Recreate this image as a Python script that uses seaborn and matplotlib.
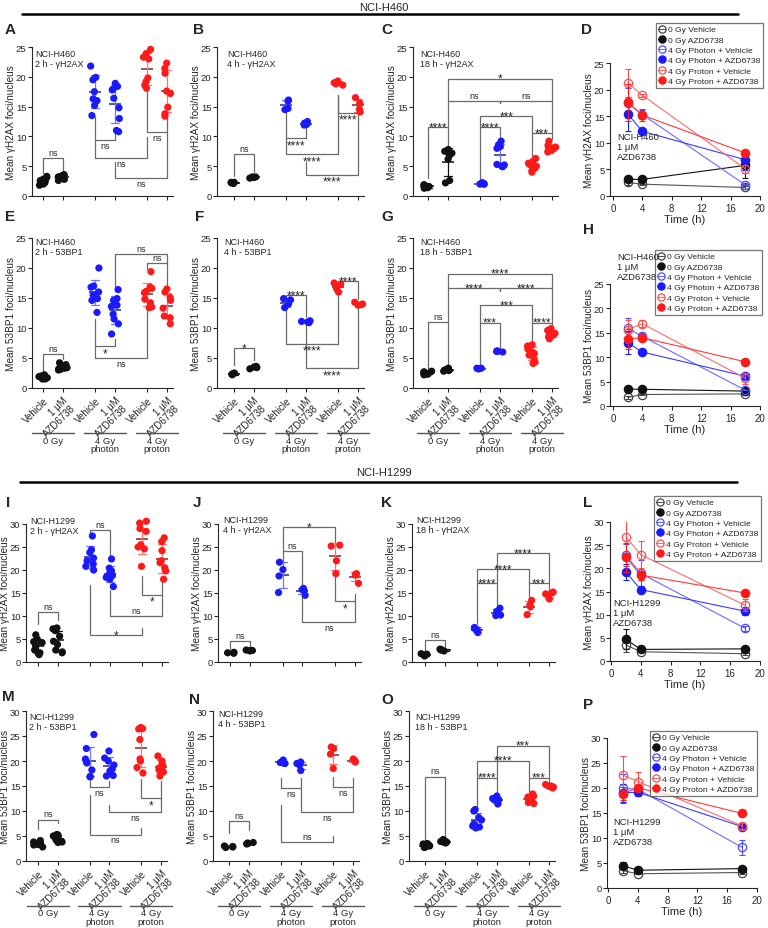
import warnings
import numpy as np
import pandas as pd
import seaborn as sns
import matplotlib
matplotlib.use("Agg")
import matplotlib.pyplot as plt
import matplotlib.transforms as mtransforms
from matplotlib.lines import Line2D

warnings.filterwarnings("ignore")
np.random.seed(3)

sns.set_style("ticks")
plt.rcParams["font.family"] = ["Liberation Sans", "DejaVu Sans"]
plt.rcParams["xtick.labelsize"] = 7
plt.rcParams["ytick.labelsize"] = 6.8
plt.rcParams["axes.linewidth"] = 0.8

W, H = 768, 929

GROUPS = ["0 Gy Vehicle", "0 Gy AZD6738", "4 Gy Photon + Vehicle",
          "4 Gy Photon + AZD6738", "4 Gy Proton + Vehicle", "4 Gy Proton + AZD6738"]
POS = [0, 1, 2.65, 3.65, 5.3, 6.3]
TICK_LABELS = ["Vehicle", "1 μM\nAZD6738"] * 3
DOSE_LABELS = ["0 Gy", "4 Gy\nphoton", "4 Gy\nproton"]
YLABELS = {"gH2AX": "Mean γH2AX foci/nucleus", "53BP1": "Mean 53BP1 foci/nucleus"}
MARK_TEXT = {"gH2AX": "γH2AX", "53BP1": "53BP1"}

# per replicate foci counts, one list per group (order of GROUPS)
h460_gh2ax_2h = [[2.0, 2.3, 2.5, 2.8, 3.1, 3.3, 1.8, 2.6],
                 [2.6, 3.0, 3.2, 3.4, 3.6, 3.3, 2.8, 3.1],
                 [21.8, 19.9, 19.5, 17.5, 16.3, 16.0, 15.2, 13.5],
                 [18.9, 18.4, 17.9, 17.8, 16.4, 14.8, 13.0, 11.0, 10.8],
                 [24.6, 23.9, 23.3, 23.0, 19.8, 19.2, 18.6, 18.1],
                 [22.3, 21.4, 20.6, 17.6, 17.2, 14.9, 13.8, 13.4]]
h460_gh2ax_4h = [[2.1, 2.2, 2.3, 2.3],
                 [3.0, 3.1, 3.2, 3.2],
                 [16.1, 15.9, 14.7, 14.5],
                 [12.5, 12.2, 12.0, 11.9],
                 [19.3, 19.0, 18.8, 18.6],
                 [16.5, 15.6, 14.6, 14.1]]
h460_gh2ax_18h = [[1.4, 1.6, 1.7, 1.9, 1.5, 1.8, 1.3, 1.6],
                  [7.8, 7.5, 7.2, 6.8, 6.2, 2.6, 2.2],
                  [2.0, 2.1, 2.2, 2.0, 2.1, 2.2, 2.1, 2.0],
                  [9.2, 8.6, 8.3, 8.0, 5.3, 5.0, 4.9, 5.2],
                  [6.3, 5.8, 5.5, 5.2, 5.0, 4.7, 4.3, 4.0, 5.3],
                  [9.2, 8.5, 8.2, 8.0, 7.8, 7.6, 7.4, 8.1]]
h460_53bp1_2h = [[1.5, 1.6, 1.8, 2.0, 2.2, 1.7, 1.5, 1.9],
                 [3.0, 3.2, 3.4, 3.6, 3.9, 4.2, 3.1, 3.3],
                 [20.0, 17.0, 16.8, 16.0, 15.5, 14.9, 14.6, 12.6],
                 [16.4, 14.9, 14.6, 13.8, 13.6, 12.3, 11.5, 10.7, 9.0],
                 [19.4, 16.8, 16.6, 16.1, 15.9, 14.8, 14.2, 13.5, 13.4],
                 [16.5, 16.0, 15.1, 14.6, 13.3, 12.0, 11.7, 10.7]]
h460_53bp1_4h = [[2.2, 2.3, 2.4, 2.5],
                 [3.2, 3.4, 3.5, 3.6],
                 [14.9, 14.7, 14.0, 13.4],
                 [11.2, 11.0, 10.9, 11.1],
                 [17.5, 17.3, 16.6, 16.0],
                 [14.3, 14.0, 13.8, 13.9]]
h460_53bp1_18h = [[2.2, 2.4, 2.6, 2.8, 2.3, 2.5, 2.7, 2.4],
                  [2.8, 3.0, 3.1, 3.2, 3.3, 2.9],
                  [3.2, 3.3, 3.3, 3.2],
                  [6.0, 6.1, 6.2, 6.1],
                  [7.2, 7.0, 6.5, 6.0, 5.5, 4.9, 4.3, 4.1, 5.8],
                  [9.9, 9.6, 9.3, 9.0, 8.8, 8.5, 8.2, 9.1]]
h1299_gh2ax_2h = [[5.9, 5.0, 4.2, 3.5, 2.6, 2.0, 1.8, 1.6, 4.4],
                  [7.4, 7.2, 6.8, 5.6, 4.5, 2.6, 2.2, 2.0, 3.8],
                  [27.4, 24.4, 23.8, 22.6, 22.0, 21.3, 20.8, 20.0],
                  [22.4, 20.4, 19.8, 19.2, 18.8, 18.4, 18.0, 16.4],
                  [30.6, 30.2, 29.0, 28.4, 25.5, 25.0, 24.6, 20.8],
                  [27.0, 26.2, 24.2, 22.0, 21.6, 19.8, 18.0, 20.5]]
h1299_gh2ax_4h = [[1.9, 2.0, 2.1, 2.0],
                  [2.4, 2.5, 2.6, 2.5],
                  [21.7, 20.1, 18.7, 15.1],
                  [16.0, 15.7, 15.5, 14.5],
                  [25.4, 25.2, 22.0, 19.2],
                  [19.2, 19.0, 18.9, 17.1]]
h1299_gh2ax_18h = [[1.3, 1.5, 1.7, 1.8],
                   [2.4, 2.6, 2.7, 2.8],
                   [7.5, 7.3, 7.0, 6.4],
                   [11.7, 11.0, 10.2, 10.1],
                   [13.4, 12.4, 12.0, 10.3],
                   [15.2, 15.0, 14.8, 13.7]]
h1299_53bp1_2h = [[2.8, 3.2, 3.4, 3.6, 3.8, 4.1, 3.3, 3.5],
                  [3.7, 3.9, 4.2, 4.6, 5.0, 5.2, 5.3, 3.8],
                  [25.3, 22.5, 20.4, 20.0, 19.6, 18.2, 16.8, 16.9],
                  [22.0, 20.6, 20.0, 19.2, 18.4, 18.0, 17.0, 17.1],
                  [26.7, 26.5, 26.4, 24.3, 20.4, 20.0, 18.7, 17.6],
                  [21.0, 20.0, 19.4, 19.0, 18.6, 18.2, 17.8, 17.0]]
h1299_53bp1_4h = [[2.7, 2.8, 3.0, 2.9],
                  [3.4, 3.6, 3.7, 3.5],
                  [20.2, 19.7, 19.5, 19.6],
                  [19.8, 19.5, 19.2, 18.1],
                  [22.8, 22.5, 21.4, 18.5],
                  [20.4, 20.1, 19.9, 19.8]]
h1299_53bp1_18h = [[2.7, 2.9, 3.1, 3.3, 3.5, 3.0, 3.2, 2.8, 3.4],
                   [3.6, 3.8, 4.0, 4.3, 3.7, 3.9],
                   [10.3, 10.0, 8.7, 8.2, 7.4, 7.0, 6.8, 6.6],
                   [13.0, 12.5, 12.3, 12.2, 11.4],
                   [13.4, 13.0, 12.8, 12.5, 12.3, 12.0, 11.7, 11.5, 12.6],
                   [15.3, 15.0, 14.8, 14.6, 14.9]]

# significance brackets: (group i, group j, line y, leg end i, leg end j, label, label side)
BR_A = [(0, 1, 6.3, 3.9, 4.3, "ns", "a"), (2, 3, 9.4, 13.3, 10.7, "ns", "b"),
        (2, 4, 6.3, 9.4, 9.9, "ns", "b"), (4, 5, 10.8, 17.6, 13.3, "ns", "b"),
        (3, 5, 3.1, 5.7, 10.8, "ns", "b")]
BR_B = [(0, 1, 7.1, 3.4, 4.0, "ns", "a"), (2, 3, 9.7, 14.2, 11.6, "****", "b"),
        (2, 4, 7.0, 9.7, 17.0, "****", "b"), (4, 5, 14.0, 17.0, 14.0, "****", "b"),
        (3, 5, 3.6, 5.7, 14.0, "****", "b")]
BR_C = [(0, 1, 11.6, 3.0, 8.3, "****", "a"), (2, 3, 11.6, 2.6, 9.6, "****", "a"),
        (4, 5, 10.6, 6.7, 9.6, "***", "a"), (2, 4, 13.4, 11.6, 10.6, "***", "a"),
        (1, 3, 16.0, 11.6, 15.6, "ns", "a"), (3, 5, 16.0, 15.6, 10.6, "ns", "a"),
        (1, 5, 19.7, 16.0, 16.0, "*", "a")]
BR_E = [(0, 1, 5.7, 2.9, 4.8, "ns", "a"), (2, 3, 7.0, 11.5, 8.2, "*", "b"),
        (2, 4, 5.0, 7.0, 13.7, "ns", "b"), (4, 5, 20.8, 19.8, 17.0, "ns", "a"),
        (3, 5, 22.3, 16.8, 20.8, "ns", "a")]
BR_F = [(0, 1, 6.7, 3.9, 4.6, "*", "a"), (2, 3, 15.5, 15.2, 11.8, "****", "a"),
        (4, 5, 17.8, 17.6, 14.8, "****", "a"), (2, 4, 7.4, 13.2, 15.7, "****", "b"),
        (3, 5, 3.3, 10.6, 13.5, "****", "b")]
BR_G = [(0, 1, 11.0, 3.1, 3.6, "ns", "a"), (2, 3, 10.9, 3.6, 6.6, "***", "a"),
        (4, 5, 10.9, 7.7, 10.2, "****", "a"), (2, 4, 13.8, 10.9, 10.9, "***", "a"),
        (1, 3, 16.6, 11.0, 16.1, "****", "a"), (3, 5, 16.6, 16.1, 10.9, "****", "a"),
        (1, 5, 19.05, 16.6, 16.6, "****", "a")]
BR_I = [(0, 1, 10.8, 8.3, 9.2, "ns", "a"), (2, 3, 28.8, 27.8, 23.1, "ns", "a"),
        (4, 5, 14.6, 18.8, 17.3, "*", "b"), (3, 5, 9.9, 15.7, 14.6, "ns", "a"),
        (2, 4, 5.9, 16.7, 7.5, "*", "a")]
BR_J = [(0, 1, 4.6, 2.9, 3.3, "ns", "a"), (2, 3, 24.1, 22.0, 16.8, "ns", "a"),
        (2, 4, 29.4, 24.1, 26.0, "*", "a"), (4, 5, 13.2, 18.4, 14.8, "*", "b"),
        (3, 5, 8.7, 14.1, 13.2, "ns", "b")]
BR_K = [(0, 1, 4.7, 2.3, 3.2, "ns", "a"), (2, 3, 17.2, 8.3, 12.4, "****", "a"),
        (4, 5, 17.2, 13.9, 15.7, "***", "a"), (2, 4, 20.2, 17.2, 17.2, "****", "a"),
        (3, 5, 23.7, 17.2, 17.2, "****", "a")]
BR_M = [(0, 1, 8.3, 6.5, 7.7, "ns", "a"), (2, 3, 14.8, 16.0, 16.0, "ns", "b"),
        (4, 5, 12.6, 16.5, 16.0, "*", "b"), (3, 5, 9.8, 11.3, 12.6, "ns", "b"),
        (2, 4, 5.3, 13.3, 6.7, "ns", "b")]
BR_N = [(0, 1, 8.0, 5.7, 6.3, "ns", "a"), (2, 3, 14.6, 16.7, 16.7, "ns", "b"),
        (4, 5, 14.9, 16.9, 16.7, "ns", "b"), (3, 5, 9.8, 14.6, 14.9, "ns", "b"),
        (2, 4, 3.8, 11.3, 5.0, "ns", "a")]
BR_O = [(0, 1, 16.9, 4.0, 4.7, "ns", "a"), (2, 3, 16.7, 11.0, 13.1, "****", "a"),
        (4, 5, 16.7, 13.8, 15.5, "***", "a"), (2, 4, 20.1, 16.7, 16.7, "****", "a"),
        (3, 5, 23.1, 16.7, 16.7, "***", "a")]

POINT_COLORS = ["#111111", "#111111", "#1a1aff", "#1a1aff", "#ff1a1a", "#ff1a1a"]
ERR_COLORS = ["#111111", "#111111", "#7272ff", "#7272ff", "#ff7272", "#ff7272"]
MEAN_COLORS = ["#111111", "#111111", "#2a2a7a", "#2a2a7a", "#7a2a2a", "#7a2a2a"]
LINE_COLORS = ["#555555", "#111111", "#6b6bff", "#3a3aff", "#ff6b6b", "#ff3a3a"]
EDGE_COLORS = ["#444444", "#111111", "#4d4dff", "#1a1aff", "#ff4d4d", "#ff1a1a"]
FACE_COLORS = ["none", "#111111", "none", "#1a1aff", "none", "#ff1a1a"]

SOURCES = {("NCI-H460", "gH2AX", 2): h460_gh2ax_2h, ("NCI-H460", "gH2AX", 4): h460_gh2ax_4h,
           ("NCI-H460", "gH2AX", 18): h460_gh2ax_18h, ("NCI-H460", "53BP1", 2): h460_53bp1_2h,
           ("NCI-H460", "53BP1", 4): h460_53bp1_4h, ("NCI-H460", "53BP1", 18): h460_53bp1_18h,
           ("NCI-H1299", "gH2AX", 2): h1299_gh2ax_2h, ("NCI-H1299", "gH2AX", 4): h1299_gh2ax_4h,
           ("NCI-H1299", "gH2AX", 18): h1299_gh2ax_18h, ("NCI-H1299", "53BP1", 2): h1299_53bp1_2h,
           ("NCI-H1299", "53BP1", 4): h1299_53bp1_4h, ("NCI-H1299", "53BP1", 18): h1299_53bp1_18h}

rows = []
for (cell, mark, t), groups in SOURCES.items():
    for g, p, vals in zip(GROUPS, POS, groups):
        for v in vals:
            rows.append(dict(cell=cell, mark=mark, time=t, grp=g, pos=p, value=v))
data = pd.DataFrame(rows)

fig = plt.figure(figsize=(W / 100, H / 100), dpi=100)


def px_rect(left, top, right, bottom):
    return [left / W, 1 - bottom / H, (right - left) / W, (bottom - top) / H]


def style_axes(ax, mark, width_px):
    ax.set_ylabel(YLABELS[mark], fontsize=7.2)
    ax.yaxis.set_label_coords(-16 / width_px, 0.5)
    sns.despine(ax=ax)
    ax.tick_params(length=3, width=0.8)
    ax.tick_params(axis="y", pad=1)
    ax.tick_params(axis="x", pad=2)


def scatter_panel(spec, cell, mark, t, ymax, brackets, labelled, inset_xy):
    spine, first, last, top, bottom = spec
    unit = (last - first) / (POS[-1] - POS[0])
    right = last + 6
    ax = fig.add_axes(px_rect(spine, top, right, bottom))
    d = data[(data.cell == cell) & (data.mark == mark) & (data.time == t)]
    sns.stripplot(data=d, x="pos", y="value", hue="grp", hue_order=GROUPS,
                  palette=dict(zip(GROUPS, POINT_COLORS)), native_scale=True,
                  jitter=0.24, size=5.2, linewidth=0, legend=False, ax=ax)
    for g, ec, mc in zip(GROUPS, ERR_COLORS, MEAN_COLORS):
        sns.pointplot(data=d[d.grp == g], x="pos", y="value", native_scale=True,
                      errorbar="sd", capsize=0.4, color=ec, linestyle="none",
                      marker="_", markersize=9, markeredgewidth=1.1, markeredgecolor=mc,
                      err_kws={"linewidth": 0.9}, ax=ax)
    ax.set_xlim(POS[0] + (spine - first) / unit, POS[0] + (right - first) / unit)
    ax.set_ylim(0, ymax)
    ax.set_yticks(range(0, ymax + 1, 5))
    ax.set_xticks(POS)
    ax.set_xlabel("")
    for c in ax.collections:
        c.set_clip_on(False)
    style_axes(ax, mark, right - spine)
    hpx = bottom - top
    if labelled:
        ax.set_xticklabels(TICK_LABELS, rotation=45, ha="right", va="top",
                           rotation_mode="anchor", fontsize=7, linespacing=1.05)
        trans = mtransforms.blended_transform_factory(ax.transData, ax.transAxes)
        yl = -45 / hpx
        for k, lab in enumerate(DOSE_LABELS):
            c = (POS[2 * k] + POS[2 * k + 1]) / 2
            ax.plot([c - 1.08, c + 1.08], [yl, yl], transform=trans, clip_on=False,
                    color="#555555", lw=1)
            ax.text(c, yl - 2.5 / hpx, lab, transform=trans, ha="center", va="top",
                    fontsize=6.8, linespacing=1.0)
    else:
        ax.set_xticklabels([])

    px = ymax / hpx
    for i, j, y, e1, e2, lab, side in brackets:
        xa, xb = POS[i], POS[j]
        ax.plot([xa, xa, xb, xb], [e1, y, y, e2], color="#6a6a6a", lw=0.9, clip_on=False)
        star = lab != "ns"
        fs = 8.5 if star else 6.5
        if side == "a":
            if star:
                ax.text((xa + xb) / 2, y - 3.2 * px, lab, ha="center", va="baseline",
                        fontsize=fs, clip_on=False)
            else:
                ax.text((xa + xb) / 2, y + 1.0 * px, lab, ha="center", va="bottom",
                        fontsize=fs, clip_on=False)
        else:
            ax.text((xa + xb) / 2, y - 1.0 * px, lab, ha="center", va="top",
                    fontsize=fs, clip_on=False)

    fig.text(inset_xy[0] / W, 1 - (inset_xy[1] - 5) / H,
             f"{cell}\n{t} h - {MARK_TEXT[mark]}", ha="left", va="top",
             fontsize=6.5, linespacing=1.2)
    return ax


def time_panel(spec, cell, mark, ymax, legend_corner, inset_xy):
    spine, x0, x20, top, bottom = spec
    unit = (x20 - x0) / 20
    ax = fig.add_axes(px_rect(spine, top, x20, bottom))
    d = data[(data.cell == cell) & (data.mark == mark)]
    for k, g in enumerate(GROUPS):
        sns.lineplot(data=d[d.grp == g], x="time", y="value", errorbar="sd",
                     err_style="bars", color=LINE_COLORS[k], linewidth=0.8,
                     marker="o", markersize=6, markerfacecolor=FACE_COLORS[k],
                     markeredgecolor=EDGE_COLORS[k], markeredgewidth=0.9,
                     err_kws={"capsize": 2.5, "capthick": 0.8, "elinewidth": 0.8,
                              "ecolor": EDGE_COLORS[k]},
                     ax=ax)
    ax.set_xlim(-(x0 - spine) / unit, 20)
    ax.set_ylim(0, ymax)
    ax.set_xticks(range(0, 21, 4))
    ax.set_yticks(range(0, ymax + 1, 5))
    ax.set_xlabel("Time (h)", fontsize=8, labelpad=1)
    style_axes(ax, mark, x20 - spine)
    handles = [Line2D([], [], color=LINE_COLORS[k], lw=0.8, marker="o", ms=5.2,
                      mfc=FACE_COLORS[k], mec=EDGE_COLORS[k], mew=0.9)
               for k in range(len(GROUPS))]
    leg = ax.legend(handles, GROUPS, loc="upper right",
                    bbox_to_anchor=(legend_corner[0] / W, 1 - legend_corner[1] / H),
                    bbox_transform=fig.transFigure, frameon=True, fancybox=False,
                    edgecolor="#555555", fontsize=6.1, handlelength=0.8,
                    handletextpad=0.35, borderpad=0.3, labelspacing=0.28,
                    borderaxespad=0)
    leg.get_frame().set_linewidth(0.9)
    fig.text(inset_xy[0] / W, 1 - (inset_xy[1] - 5) / H, f"{cell}\n1 μM\nAZD6738",
             ha="left", va="top", fontsize=6.8, linespacing=1.15)
    return ax


scatter_panel((32, 43, 167, 48, 197), "NCI-H460", "gH2AX", 2, 25, BR_A, False, (35, 55))
scatter_panel((217, 234, 358, 48, 197), "NCI-H460", "gH2AX", 4, 25, BR_B, False, (227, 55))
scatter_panel((413, 428, 552, 48, 197), "NCI-H460", "gH2AX", 18, 25, BR_C, False, (420, 55))
time_panel((610, 613, 760, 64, 197), "NCI-H460", "gH2AX", 25, (763, 24), (617, 138))

scatter_panel((32, 43, 167, 239, 389), "NCI-H460", "53BP1", 2, 25, BR_E, True, (35, 243))
scatter_panel((217, 234, 358, 239, 389), "NCI-H460", "53BP1", 4, 25, BR_F, True, (224, 243))
scatter_panel((413, 428, 552, 239, 389), "NCI-H460", "53BP1", 18, 25, BR_G, True, (420, 243))
time_panel((610, 613, 760, 285, 407), "NCI-H460", "53BP1", 25, (762, 251), (617, 258))

scatter_panel((26, 38, 162, 525, 663), "NCI-H1299", "gH2AX", 2, 30, BR_I, False, (30, 522))
scatter_panel((218, 230, 355, 525, 663), "NCI-H1299", "gH2AX", 4, 30, BR_J, False, (223, 521))
scatter_panel((412, 425, 549, 525, 663), "NCI-H1299", "gH2AX", 18, 30, BR_K, False, (416, 521))
time_panel((610, 611, 760, 523, 662), "NCI-H1299", "gH2AX", 30, (761, 497), (613, 604))

scatter_panel((26, 38, 161, 712, 862), "NCI-H1299", "53BP1", 2, 30, BR_M, True, (29, 718))
scatter_panel((213, 229, 353, 712, 862), "NCI-H1299", "53BP1", 4, 30, BR_N, True, (218, 715))
scatter_panel((409, 425, 549, 712, 862), "NCI-H1299", "53BP1", 18, 30, BR_O, True, (415, 718))
time_panel((607, 608, 757, 739, 889), "NCI-H1299", "53BP1", 30, (757, 732), (613, 823))

# cell line headers
for name, ty, ly, x0, x1 in [("NCI-H460", 8, 15, 22, 738), ("NCI-H1299", 473, 483, 20, 737)]:
    fig.text(384 / W, 1 - ty / H, name, ha="center", va="center", fontsize=8)
    fig.add_artist(Line2D([x0 / W, x1 / W], [1 - ly / H, 1 - ly / H], color="black", lw=1.8))

letters = [("A", 10, 30), ("B", 198, 30), ("C", 387, 30), ("D", 587, 30),
           ("E", 10, 217), ("F", 200, 217), ("G", 387, 217), ("H", 588, 230),
           ("I", 8, 503), ("J", 197, 503), ("K", 387, 503), ("L", 588, 503),
           ("M", 8, 697), ("N", 195, 700), ("O", 387, 700), ("P", 588, 705)]
for lab, x, y in letters:
    fig.text(x / W, 1 - y / H, lab, ha="center", va="center", fontsize=11, fontweight="bold")

fig.savefig("out.png", dpi=100)
